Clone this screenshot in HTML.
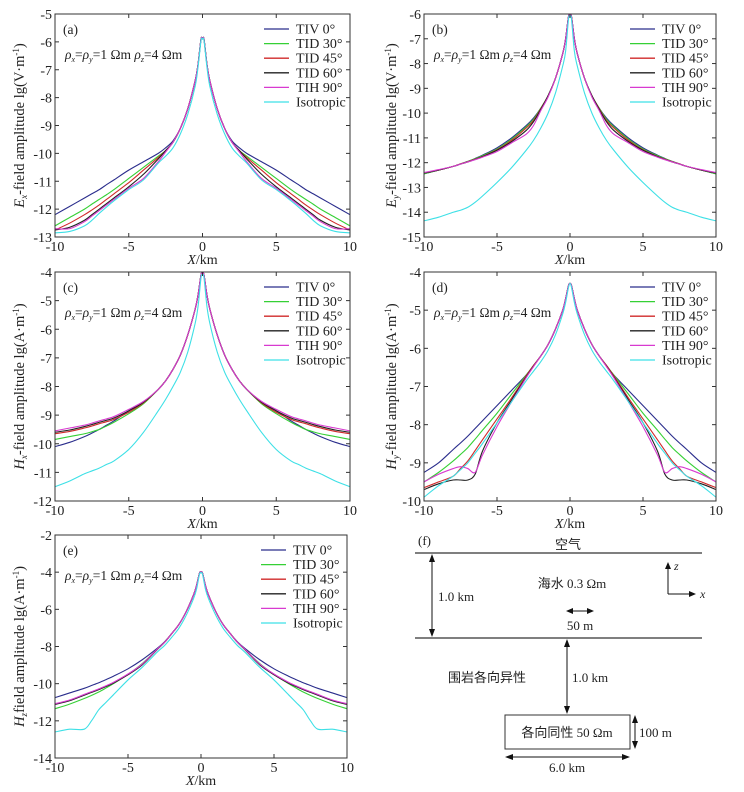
<!DOCTYPE html>
<html><head><meta charset="utf-8">
<style>
html,body{margin:0;padding:0;background:#fff;}
svg{display:block;font-family:"Liberation Serif","Noto Serif CJK SC",serif;}
.cjk{font-family:"Liberation Serif","Noto Sans CJK SC",sans-serif;}
</style></head>
<body>
<svg id="fig" width="744" height="792" viewBox="0 0 744 792" xmlns="http://www.w3.org/2000/svg">
<g id="schematic" font-size="13" fill="#222">
  <text x="418" y="545">(f)</text>
  <text class="cjk" x="568" y="549" text-anchor="middle">空气</text>
  <line x1="415" y1="553" x2="702" y2="553" stroke="#333" stroke-width="1.2"/>
  <line x1="415" y1="638" x2="702" y2="638" stroke="#333" stroke-width="1.2"/>
  <line x1="432" y1="556" x2="432" y2="635" stroke="#111"/>
  <path d="M432,554 l-3,8 h6z M432,637 l-3,-8 h6z" fill="#111"/>
  <text x="438" y="601">1.0 km</text>
  <text class="cjk" x="572" y="588" text-anchor="middle">海水  0.3 Ωm</text>
  <line x1="568" y1="611" x2="592" y2="611" stroke="#111"/>
  <path d="M566,611 l7,-3 v6z M594,611 l-7,-3 v6z" fill="#111"/>
  <text x="580" y="630" text-anchor="middle">50 m</text>
  <line x1="567" y1="641" x2="567" y2="712" stroke="#111"/>
  <path d="M567,639 l-3,8 h6z M567,714 l-3,-8 h6z" fill="#111"/>
  <text x="572" y="682">1.0 km</text>
  <text class="cjk" x="448" y="682">围岩各向异性</text>
  <rect x="505" y="715" width="125" height="34" fill="none" stroke="#333"/>
  <text class="cjk" x="567" y="737" text-anchor="middle">各向同性 50 Ωm</text>
  <line x1="635" y1="717" x2="635" y2="747" stroke="#111"/>
  <path d="M635,715 l-3,8 h6z M635,749 l-3,-8 h6z" fill="#111"/>
  <text x="639" y="737">100 m</text>
  <line x1="507" y1="757" x2="628" y2="757" stroke="#111"/>
  <path d="M505,757 l8,-3 v6z M630,757 l-8,-3 v6z" fill="#111"/>
  <text x="567" y="772" text-anchor="middle">6.0 km</text>
  <path d="M668,594 V566 M668,594 H693" stroke="#111" fill="none"/>
  <path d="M668,562 l-3,7 h6z M696,594 l-7,-3 v6z" fill="#111"/>
  <text x="674" y="570" font-style="italic" font-size="12">z</text>
  <text x="700" y="598" font-style="italic" font-size="12">x</text>
</g>
</svg>
<script>
// shared half-profile offsets (km); curves are mirrored about X=0
const distKm = [0,0.1,0.3,0.5,1,1.5,2,2.5,3,4,5,6,6.5,7,7.5,8,9,10];
const seriesNames = ["TIV 0°","TID 30°","TID 45°","TID 60°","TIH 90°","Isotropic"];
const seriesColors = ["#2a2d8c","#35d035","#d02a2a","#222222","#d83ad0","#3de0e6"];
const xTicks = [-10,-5,0,5,10];

const exValues = [
 [-5.9,-5.9,-6.8,-7.4,-8.4,-9.1,-9.55,-9.8,-10.0,-10.3,-10.6,-10.95,-11.12,-11.3,-11.45,-11.6,-11.9,-12.2],
 [-5.9,-5.9,-6.8,-7.4,-8.4,-9.1,-9.6,-9.9,-10.1,-10.5,-10.9,-11.3,-11.48,-11.65,-11.82,-12.0,-12.3,-12.6],
 [-5.9,-5.9,-6.8,-7.4,-8.4,-9.1,-9.6,-9.9,-10.15,-10.6,-11.05,-11.45,-11.65,-11.85,-12.03,-12.2,-12.5,-12.75],
 [-5.9,-5.9,-6.8,-7.4,-8.4,-9.1,-9.6,-9.9,-10.2,-10.75,-11.2,-11.6,-11.8,-12.0,-12.2,-12.4,-12.65,-12.75],
 [-5.9,-5.9,-6.8,-7.4,-8.4,-9.1,-9.6,-9.95,-10.3,-10.9,-11.25,-11.65,-11.85,-12.05,-12.25,-12.45,-12.7,-12.7],
 [-5.9,-5.95,-6.9,-7.6,-8.6,-9.3,-9.8,-10.1,-10.35,-10.95,-11.3,-11.7,-11.92,-12.15,-12.4,-12.6,-12.8,-12.85]];
const exTicks = [-13,-12,-11,-10,-9,-8,-7,-6,-5];

const eyValues = [
 [-6.05,-6.1,-7.0,-7.6,-8.6,-9.3,-9.8,-10.2,-10.5,-11.0,-11.4,-11.7,-11.83,-11.95,-12.05,-12.15,-12.3,-12.45],
 [-6.05,-6.1,-7.0,-7.6,-8.6,-9.3,-9.8,-10.25,-10.55,-11.05,-11.45,-11.72,-11.84,-11.95,-12.05,-12.15,-12.3,-12.45],
 [-6.05,-6.1,-7.0,-7.6,-8.6,-9.3,-9.82,-10.3,-10.6,-11.1,-11.48,-11.75,-11.86,-11.96,-12.05,-12.15,-12.3,-12.42],
 [-6.05,-6.1,-7.0,-7.6,-8.6,-9.3,-9.85,-10.35,-10.7,-11.15,-11.5,-11.76,-11.87,-11.97,-12.06,-12.15,-12.3,-12.42],
 [-6.05,-6.1,-7.0,-7.6,-8.6,-9.35,-9.9,-10.5,-10.85,-11.2,-11.55,-11.78,-11.88,-11.97,-12.06,-12.15,-12.28,-12.4],
 [-6.1,-6.2,-7.5,-8.1,-9.2,-10.0,-10.6,-11.1,-11.5,-12.2,-12.8,-13.35,-13.6,-13.8,-13.92,-14.0,-14.2,-14.35]];
const eyTicks = [-15,-14,-13,-12,-11,-10,-9,-8,-7,-6];

const hxValues = [
 [-4.05,-4.1,-4.8,-5.3,-6.2,-6.9,-7.4,-7.8,-8.1,-8.55,-8.85,-9.2,-9.35,-9.5,-9.63,-9.75,-9.95,-10.1],
 [-4.05,-4.1,-4.8,-5.3,-6.2,-6.9,-7.4,-7.8,-8.1,-8.6,-8.95,-9.25,-9.38,-9.5,-9.58,-9.65,-9.75,-9.85],
 [-4.05,-4.1,-4.8,-5.3,-6.2,-6.9,-7.4,-7.8,-8.1,-8.57,-8.9,-9.15,-9.23,-9.3,-9.38,-9.45,-9.57,-9.65],
 [-4.05,-4.1,-4.8,-5.3,-6.2,-6.9,-7.4,-7.8,-8.1,-8.55,-8.85,-9.1,-9.18,-9.25,-9.33,-9.4,-9.52,-9.6],
 [-4.05,-4.1,-4.8,-5.3,-6.2,-6.9,-7.4,-7.8,-8.1,-8.52,-8.8,-9.05,-9.13,-9.2,-9.28,-9.35,-9.45,-9.55],
 [-4.1,-4.2,-5.2,-5.8,-6.8,-7.5,-8.0,-8.45,-8.85,-9.6,-10.2,-10.6,-10.72,-10.85,-10.95,-11.05,-11.3,-11.5]];
const hxTicks = [-12,-11,-10,-9,-8,-7,-6,-5,-4];

const hyValues = [
 [-4.3,-4.35,-4.7,-5.0,-5.5,-5.9,-6.2,-6.45,-6.7,-7.1,-7.5,-7.9,-8.1,-8.3,-8.48,-8.65,-9.0,-9.25],
 [-4.3,-4.35,-4.7,-5.0,-5.5,-5.9,-6.2,-6.45,-6.7,-7.2,-7.7,-8.15,-8.38,-8.6,-8.78,-8.95,-9.25,-9.5],
 [-4.3,-4.35,-4.7,-5.0,-5.5,-5.9,-6.2,-6.45,-6.72,-7.3,-7.85,-8.4,-8.68,-8.95,-9.15,-9.35,-9.5,-9.65],
 [-4.3,-4.35,-4.7,-5.0,-5.5,-5.9,-6.2,-6.47,-6.75,-7.35,-7.95,-8.7,-9.3,-9.45,-9.45,-9.45,-9.55,-9.7],
 [-4.3,-4.35,-4.7,-5.0,-5.5,-5.9,-6.2,-6.48,-6.77,-7.4,-8.05,-8.8,-9.25,-9.15,-9.1,-9.15,-9.3,-9.5],
 [-4.3,-4.4,-4.8,-5.1,-5.65,-6.05,-6.35,-6.6,-6.85,-7.4,-7.95,-8.5,-8.75,-9.0,-9.18,-9.35,-9.6,-9.9]];
const hyTicks = [-10,-9,-8,-7,-6,-5,-4];

const hzValues = [
 [-4.0,-4.05,-4.7,-5.2,-6.1,-6.8,-7.3,-7.75,-8.1,-8.7,-9.2,-9.6,-9.78,-9.95,-10.1,-10.25,-10.5,-10.75],
 [-4.0,-4.05,-4.7,-5.2,-6.1,-6.8,-7.3,-7.78,-8.15,-8.9,-9.5,-10.0,-10.23,-10.45,-10.63,-10.8,-11.1,-11.35],
 [-4.0,-4.05,-4.7,-5.2,-6.1,-6.8,-7.3,-7.78,-8.15,-8.95,-9.5,-9.95,-10.13,-10.3,-10.45,-10.6,-10.9,-11.1],
 [-4.0,-4.05,-4.7,-5.2,-6.1,-6.8,-7.3,-7.78,-8.16,-8.97,-9.52,-9.97,-10.15,-10.32,-10.47,-10.62,-10.92,-11.12],
 [-4.0,-4.05,-4.7,-5.2,-6.1,-6.8,-7.3,-7.78,-8.14,-8.93,-9.48,-9.93,-10.11,-10.28,-10.43,-10.58,-10.88,-11.08],
 [-4.05,-4.1,-4.9,-5.4,-6.3,-7.0,-7.5,-7.95,-8.3,-9.1,-9.8,-10.6,-11.0,-11.4,-12.0,-12.45,-12.45,-12.6]];
const hzTicks = [-14,-12,-10,-8,-6,-4,-2];

const NS = "http://www.w3.org/2000/svg";
const svg = document.getElementById("fig");
function mk(tag, attrs, parent){
  const e = document.createElementNS(NS, tag);
  for (const k in attrs) e.setAttribute(k, attrs[k]);
  (parent||svg).appendChild(e);
  return e;
}
function smoothPath(pts){
  let d = "M"+pts[0][0].toFixed(2)+","+pts[0][1].toFixed(2);
  for (let i=0;i<pts.length-1;i++){
    const p0=pts[Math.max(0,i-1)], p1=pts[i], p2=pts[i+1], p3=pts[Math.min(pts.length-1,i+2)];
    const t=0.16;
    const c1x=p1[0]+(p2[0]-p0[0])*t, c1y=p1[1]+(p2[1]-p0[1])*t;
    const c2x=p2[0]-(p3[0]-p1[0])*t, c2y=p2[1]-(p3[1]-p1[1])*t;
    d+=" C"+c1x.toFixed(2)+","+c1y.toFixed(2)+" "+c2x.toFixed(2)+","+c2y.toFixed(2)+" "+p2[0].toFixed(2)+","+p2[1].toFixed(2);
  }
  return d;
}

function panel(cfg){
  const g = mk("g", {});
  
  
  const L=cfg.left, R=cfg.right, T=cfg.top, B=cfg.bottom;
  const yMin=cfg.ticks[0], yMax=cfg.ticks[cfg.ticks.length-1];
  const sx = v => L + (v+10)/20*(R-L);
  const sy = v => B - (v-yMin)/(yMax-yMin)*(B-T);

  const cg = mk("g", {}, g);
  
  
  for (let s=0;s<cfg.values.length;s++){
    const vals = cfg.values[s];
    const pts = [];
    for (let i=distKm.length-1;i>=0;i--) pts.push([sx(-distKm[i]), sy(vals[i])]);
    for (let i=1;i<distKm.length;i++) pts.push([sx(distKm[i]), sy(vals[i])]);
    const p = mk("path", {d:smoothPath(pts), fill:"none", stroke:seriesColors[s], "stroke-width":1.1}, cg);
    
    
  }

  const fr = mk("rect", {x:L, y:T, width:R-L, height:B-T, fill:"none", stroke:"#333", "stroke-width":1}, g);
  
  

  const yg = mk("g", {"font-size":14, fill:"#222"}, g);
  
  
  cfg.ticks.forEach(v=>{
    const y=sy(v);
    mk("line",{x1:L,y1:y,x2:L+4,y2:y,stroke:"#333"},yg);
    mk("line",{x1:R,y1:y,x2:R-4,y2:y,stroke:"#333"},yg);
    const t=mk("text",{x:L-3,y:y+5,"text-anchor":"end"},yg);
    t.textContent=String(v);
    
    
  });
  const xg = mk("g", {"font-size":14, fill:"#222"}, g);
  
  
  xTicks.forEach(v=>{
    const x=sx(v);
    mk("line",{x1:x,y1:B,x2:x,y2:B-4,stroke:"#333"},xg);
    mk("line",{x1:x,y1:T,x2:x,y2:T+4,stroke:"#333"},xg);
    const t=mk("text",{x:x,y:B+14,"text-anchor":"middle"},xg);
    t.textContent=String(v);
    
    
  });
  const xt = mk("text",{x:(L+R)/2,y:B+27,"text-anchor":"middle","font-size":14,fill:"#222"},g);
  xt.innerHTML='<tspan font-style="italic">X</tspan>/km';
  
  

  const yt = mk("text",{x:0,y:0,"text-anchor":"middle","font-size":14.5,fill:"#222",
    transform:"translate("+cfg.ylabX+","+((T+B)/2)+") rotate(-90)"},g);
  yt.innerHTML='<tspan font-style="italic">'+cfg.comp[0]+'</tspan><tspan font-style="italic" font-size="9" dy="3">'+cfg.comp[1]+'</tspan><tspan dy="-3">'+cfg.dash+'field amplitude lg('+cfg.unit+'·m</tspan><tspan font-size="9" dy="-5">-1</tspan><tspan dy="5">)</tspan>';
  
  

  const pl = mk("text",{x:L+8,y:T+20,"font-size":13.5,fill:"#222"},g);
  pl.textContent="("+cfg.letter+")";
  
  

  const rt = mk("text",{x:L+10,y:T+45,"font-size":13.5,fill:"#222"},g);
  rt.innerHTML='<tspan font-style="italic">ρ</tspan><tspan font-style="italic" font-size="8" dy="3">x</tspan><tspan dy="-3">=</tspan><tspan font-style="italic">ρ</tspan><tspan font-style="italic" font-size="8" dy="3">y</tspan><tspan dy="-3">=1 Ωm  </tspan><tspan font-style="italic">ρ</tspan><tspan font-style="italic" font-size="8" dy="3">z</tspan><tspan dy="-3">=4 Ωm</tspan>';
  
  

  const lg = mk("g",{"font-size":14,fill:"#222"},g);
  
  
  const lx=R-86, ly0=T+15;
  seriesNames.forEach((n,i)=>{
    const y=ly0+i*14.6;
    const e=mk("g",{},lg);
    
    
    mk("line",{x1:lx,y1:y,x2:lx+25,y2:y,stroke:seriesColors[i],"stroke-width":1.3},e);
    const t=mk("text",{x:lx+32,y:y+4.5},e);
    t.textContent=n;
  });
}

panel({name:"panel-a-ex", letter:"a", left:55,right:350,top:14,bottom:237, ticks:exTicks, values:exValues, comp:["E","x"], dash:"-", unit:"V", ylabX:24});
panel({name:"panel-b-ey", letter:"b", left:424,right:716,top:14,bottom:237, ticks:eyTicks, values:eyValues, comp:["E","y"], dash:"-", unit:"V", ylabX:396});
panel({name:"panel-c-hx", letter:"c", left:55,right:350,top:272,bottom:501, ticks:hxTicks, values:hxValues, comp:["H","x"], dash:"-", unit:"A", ylabX:24});
panel({name:"panel-d-hy", letter:"d", left:424,right:716,top:272,bottom:501, ticks:hyTicks, values:hyValues, comp:["H","y"], dash:"-", unit:"A", ylabX:396});
panel({name:"panel-e-hz", letter:"e", left:55,right:347,top:535,bottom:758, ticks:hzTicks, values:hzValues, comp:["H","z"], dash:"", unit:"A", ylabX:24});
</script>
</body></html>
